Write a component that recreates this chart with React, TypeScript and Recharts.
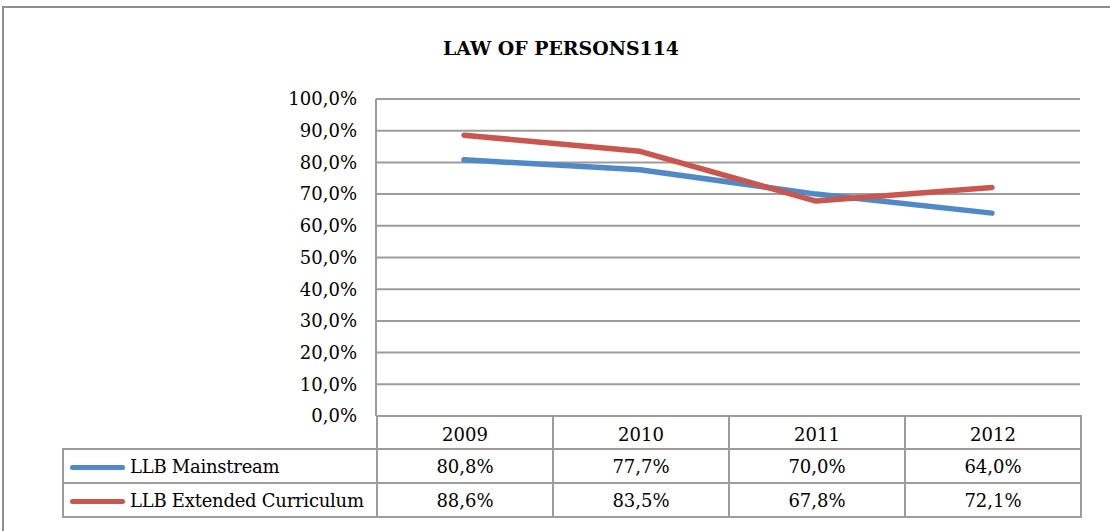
import { LineChart, Line, XAxis, YAxis, CartesianGrid } from "recharts";

const years = ["2009", "2010", "2011", "2012"];
const mainstream = [80.8, 77.7, 70.0, 64.0];
const extended = [88.6, 83.5, 67.8, 72.1];
const yTicks = [0, 10, 20, 30, 40, 50, 60, 70, 80, 90, 100];
const seriesNames = ["LLB Mainstream", "LLB Extended Curriculum"];
const seriesValues = [mainstream, extended];
const seriesColors = ["#5089C6", "#C9564F"];

const chartData = years.map((year, i) => ({
  year,
  mainstream: mainstream[i],
  extended: extended[i],
}));

const FONT = "'DejaVu Serif', serif";
const GRID = "#9c9c9c";

const fmt = (v: number) => `${v.toFixed(1).replace(".", ",")}%`;

const cellBorder = `2px solid ${GRID}`;

export default function App() {
  return (
    <div
      style={{
        position: "absolute",
        left: 0,
        top: 0,
        width: 1110,
        height: 531,
        overflow: "hidden",
        background: "#fff",
        fontFamily: FONT,
        color: "#000",
      }}
    >
      {/* chart frame, runs off the right and bottom edge */}
      <div
        style={{
          position: "absolute",
          left: 2,
          top: 6,
          width: 1200,
          height: 600,
          border: "2px solid #8e8e8e",
        }}
      />
      <div
        style={{
          position: "absolute",
          left: 0,
          width: 1122,
          top: 34,
          textAlign: "center",
          fontWeight: "bold",
          fontSize: 18.9,
          lineHeight: "28px",
        }}
      >
        LAW OF PERSONS114
      </div>

      <div style={{ position: "absolute", left: 0, top: 0 }}>
        <LineChart
          width={1110}
          height={531}
          data={chartData}
          margin={{ top: 99, right: 30, bottom: 115, left: 0 }}
        >
          <CartesianGrid vertical={false} stroke={GRID} strokeWidth={2} />
          <XAxis dataKey="year" hide padding={{ left: 88, right: 88 }} />
          <YAxis
            width={376}
            domain={[0, 100]}
            ticks={yTicks}
            tickFormatter={fmt}
            tickLine={false}
            tickSize={0}
            tickMargin={19}
            axisLine={{ stroke: GRID, strokeWidth: 2 }}
            tick={{ fill: "#000", fontSize: 18, fontFamily: FONT }}
          />
          <Line
            dataKey="mainstream"
            stroke={seriesColors[0]}
            strokeWidth={5.5}
            strokeLinecap="round"
            strokeLinejoin="round"
            dot={false}
            isAnimationActive={false}
          />
          <Line
            dataKey="extended"
            stroke={seriesColors[1]}
            strokeWidth={5.5}
            strokeLinecap="round"
            strokeLinejoin="round"
            dot={false}
            isAnimationActive={false}
          />
        </LineChart>
      </div>

      {/* data table under the plot */}
      <table
        style={{
          position: "absolute",
          left: 62,
          top: 415,
          borderCollapse: "collapse",
          tableLayout: "fixed",
          width: 1019,
          fontSize: 18,
          fontFamily: FONT,
        }}
      >
        <colgroup>
          <col style={{ width: 314 }} />
          {years.map((y) => (
            <col key={y} style={{ width: 176 }} />
          ))}
        </colgroup>
        <tbody>
          <tr style={{ height: 33 }}>
            <td style={{ border: "none", padding: 0 }} />
            {years.map((y) => (
              <td key={y} style={{ border: cellBorder, textAlign: "center", padding: "3px 0 0 0" }}>
                {y}
              </td>
            ))}
          </tr>
          {seriesNames.map((name, s) => (
            <tr key={name} style={{ height: 34 }}>
              <td
                style={{
                  border: cellBorder,
                  padding: "0 0 0 6px",
                  whiteSpace: "nowrap",
                  letterSpacing: -0.25,
                }}
              >
                <span
                  style={{
                    display: "inline-block",
                    width: 55,
                    height: 5,
                    borderRadius: 3,
                    background: seriesColors[s],
                    verticalAlign: "middle",
                    marginRight: 5,
                  }}
                />
                {name}
              </td>
              {seriesValues[s].map((v, i) => (
                <td key={i} style={{ border: cellBorder, textAlign: "center", padding: 0 }}>
                  {fmt(v)}
                </td>
              ))}
            </tr>
          ))}
        </tbody>
      </table>
    </div>
  );
}
